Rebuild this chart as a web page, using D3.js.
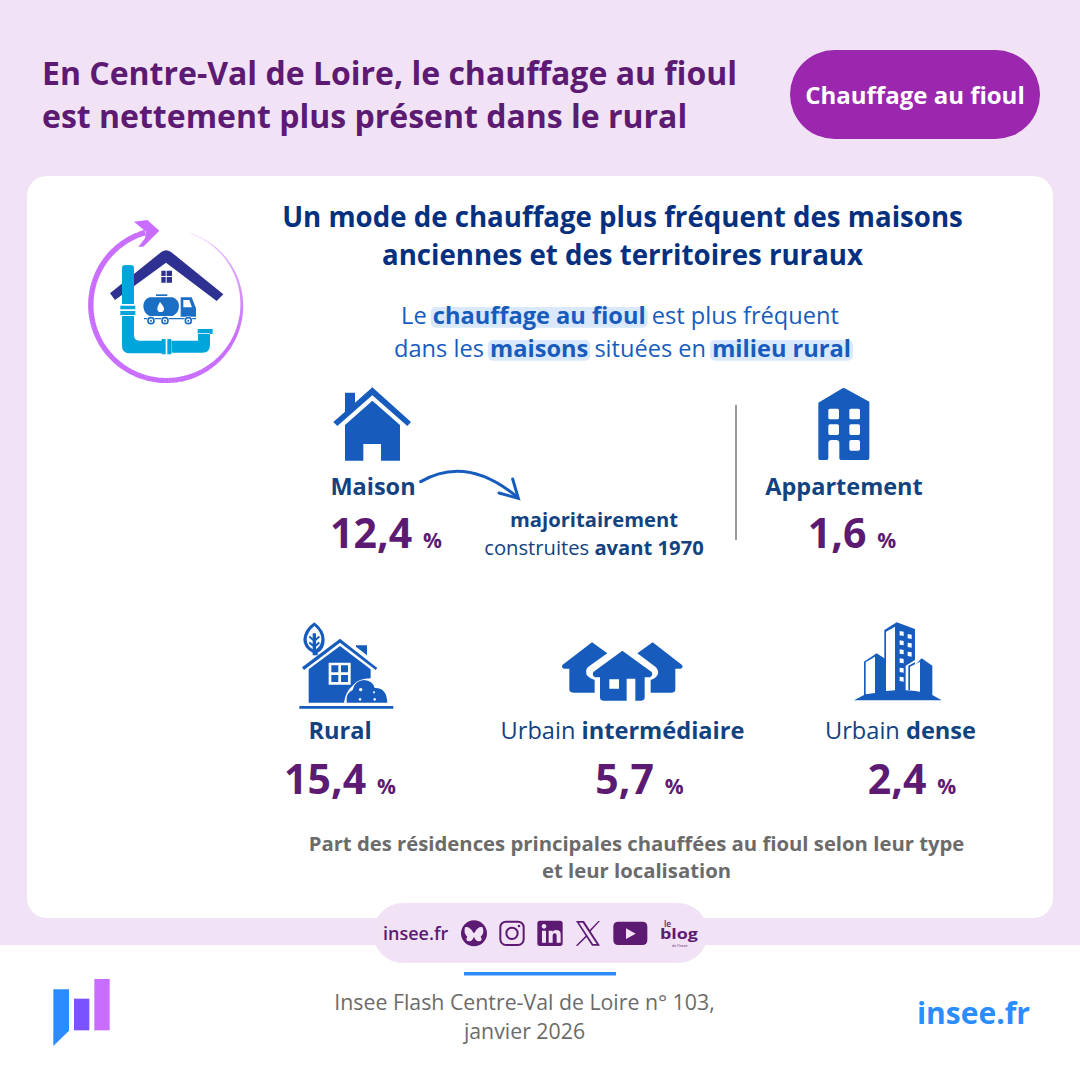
<!DOCTYPE html>
<html lang="fr"><head><meta charset="utf-8">
<script src="https://cdnjs.cloudflare.com/ajax/libs/d3/7.9.0/d3.min.js"></script>
<style>html,body{margin:0;padding:0;background:#fff}svg{display:block}text{font-family:"Open Sans","Noto Sans",sans-serif}</style>
</head><body><svg id="c" width="1080" height="1080" viewBox="0 0 1080 1080"></svg>
<script>
// ---- data ----
const housingTypes = ["Maison", "Appartement"];
const housingValues = [12.4, 1.6];
const territoryLabels = [[["Rural",700]], [["Urbain ",400],["intermédiaire",700]], [["Urbain ",400],["dense",700]]];
const territoryValues = [15.4, 5.7, 2.4];
const titleLines = ["En Centre-Val de Loire, le chauffage au fioul", "est nettement plus présent dans le rural"];
const headLines = ["Un mode de chauffage plus fréquent des maisons", "anciennes et des territoires ruraux"];
const captionLines = ["Part des résidences principales chauffées au fioul selon leur type", "et leur localisation"];
const sourceLines = ["Insee Flash Centre-Val de Loire n° 103,", "janvier 2026"];

// ---- styles ----
const BG="#f1e3f5", PURPLE="#5c1a73", PILL="#9b27af", NAVY="#05307f", BLUE="#175cbd", LABEL="#12427f", GREY="#6b6b6b", SKY="#2b8cff", PINK="#c86dff", HL="#d9e8fb";
const svg=d3.select("#c");
const fr=d3.formatLocale({decimal:",",thousands:" ",grouping:[3],currency:["","€"]}).format(".1f");

function rect(x,y,w,h,r,fill,p){return (p||svg).append("rect").attr("x",x).attr("y",y).attr("width",w).attr("height",h).attr("rx",r||0).attr("fill",fill);}
function path(g,d,fill,extra){const e=g.append("path").attr("d",d).attr("fill",fill).attr("fill-rule","evenodd");if(extra)Object.entries(extra).forEach(([k,v])=>e.attr(k,v));return e;}
function zoomGroup(ox,oy){return svg.append("g").attr("transform",`translate(${ox},${oy}) scale(${1/3})`);}
// rich text: segments [text, weight, fill, highlight?, size?]
function rich(x,y,size,segs,fill,anchor,p){
  const parent=p||svg;
  const hlG=parent.append("g");
  const t=parent.append("text").attr("x",x).attr("y",y).attr("font-size",size).attr("text-anchor",anchor||"middle").attr("fill",fill).style("white-space","pre");
  segs.forEach(s=>{const sp=t.append("tspan").text(s[0]).attr("font-weight",s[1]||400);if(s[2])sp.attr("fill",s[2]);if(s[4])sp.attr("font-size",s[4]);});
  let pos=0;
  segs.forEach(s=>{
    const len=s[0].length;
    if(s[3]){
      const a=t.node().getStartPositionOfChar(pos).x, b=t.node().getEndPositionOfChar(pos+len-1).x;
      rect(a-2,y-size*0.72,b-a+4,size*0.88,5,HL,hlG);
    }
    pos+=len;
  });
  return t;
}

// ---- background ----
rect(0,0,1080,1080,0,BG);
rect(0,945,1080,135,0,"#fff");
rect(27,176,1026,742,20,"#fff");

// ---- header ----
titleLines.forEach((l,i)=>rich(42,[85,128][i],32,[[l,700]],PURPLE,"start"));
rect(790,50,250,89,44.5,PILL);
rich(915,104,24,[["Chauffage au fioul",700]],"#fff");
headLines.forEach((l,i)=>rich(622.5,[227,265][i],27.65,[[l,700]],NAVY));
rich(620,324,23.6,[["Le ",400],["chauffage au fioul",700,null,true],[" est plus fréquent",400]],BLUE);
rich(622.5,357,23.6,[["dans les ",400],["maisons",700,null,true],[" situées en ",400],["milieu rural",700,null,true]],BLUE);

// ---- illustration ----
{
  const cx=166.3,cy=305,R=75.5,g=svg.append("g");
  const w=d3.scaleLinear().domain([0,.55,.8,1]).range([5.5,5,2.5,.4]);
  const col=d3.scaleLinear().domain([0,.7,1]).range([PINK,PINK,"#ecd0ff"]);
  const a0=-Math.PI*0.59, span=-Math.PI*1.81; // counter-clockwise around the ring
  const N=140, ang=t=>a0+span*t;
  d3.range(N).map(i=>i/N).forEach(f=>{
    const f2=f+1.1/N;
    g.append("path").attr("d",`M${cx+R*Math.cos(ang(f))},${cy+R*Math.sin(ang(f))}A${R},${R} 0 0 0 ${cx+R*Math.cos(ang(f2))},${cy+R*Math.sin(ang(f2))}`)
     .attr("fill","none").attr("stroke",col(f)).attr("stroke-width",w(f));
  });
  const z=zoomGroup(60,200);
  path(z,"M222,65L262,60L298,92L250,140L235,140L255,115L258,95Z",PINK);
  path(z,"M150,280L305,155Q318,146 332,155L490,283L470,303L318,188L165,300Z","#2e3192");
  path(z,"M304,212H317V228H304ZM320,212H336V228H320ZM304,231H317V248H304ZM320,231H336V248H320Z","#2e3192");
  // pipes
  path(z,"M186,205Q186,195 196,195H212Q222,195 222,205V312H186ZM181,317H226V328H181ZM181,333H226V345H181ZM186,348H222V405Q222,422 238,422H305V460H208Q186,460 186,438ZM305,417H317V463H305ZM322,417H334V463H322ZM333,422H414V400H450V435Q450,458 428,458H333ZM413,387H458V402H413Z","#00a5db");
  // truck
  path(z,"M268,292H338Q357,300 357,318Q357,338 338,348H268Q250,338 250,318Q250,300 268,292ZM300,306Q292,320 292,326A10,10 0 0 0 312,326Q312,320 300,306Z","#1a6fc4");
  path(z,"M288,283H322V288H288Z","#1a6fc4");
  path(z,"M362,292H395L408,325V350H362ZM370,300V322H396L388,300Z","#1a6fc4");
  path(z,"M252,354H408V358H252Z","#1a6fc4");
  [273,315,385].forEach(x=>{z.append("circle").attr("cx",x).attr("cy",362).attr("r",13).attr("fill","#fff");z.append("circle").attr("cx",x).attr("cy",362).attr("r",9).attr("fill","none").attr("stroke","#1a6fc4").attr("stroke-width",5);z.append("circle").attr("cx",x).attr("cy",362).attr("r",3).attr("fill","#1a6fc4");});
}

// ---- Maison ----
{
  const z=zoomGroup(320,380);
  path(z,"M157,22L273,126L262,138L157,46L52,138L40,126L75,95V38H105V68Z",BLUE);
  path(z,"M157,62L240,135V242H183V192H130V242H75V135Z",BLUE);
  path(z,"M302,305Q440,225 590,350",'none',{stroke:BLUE,"stroke-width":9,"stroke-linecap":"round"});
  path(z,"M578,297L595,355L537,339",'none',{stroke:BLUE,"stroke-width":9,"stroke-linecap":"round"});
}
// ---- Appartement ----
{
  const z=zoomGroup(780,380);
  const win=(x,y)=>`M${x+5},${y}H${x+27}Q${x+32},${y} ${x+32},${y+5}V${y+27}Q${x+32},${y+32} ${x+27},${y+32}H${x+5}Q${x},${y+32} ${x},${y+27}V${y+5}Q${x},${y} ${x+5},${y}Z`;
  path(z,"M115,68L185,26Q191,22 197,26L268,65V235Q268,240 263,240H183Q178,240 178,235V190Q178,180 168,180H155Q145,180 145,190V235Q145,240 140,240H120Q115,240 115,235Z"
    +win(145,86)+win(208,86)+win(145,133)+win(208,133)+win(208,180),BLUE);
}
// stats, row 1
const valueSize=41, pctSize=21;
const stat=(x,y,v)=>rich(x,y,valueSize,[[fr(v),700],["  ",700,null,false,pctSize],["%",700,null,false,pctSize]],PURPLE);
const xHousing=d3.scaleOrdinal().domain(housingTypes).range([373,844]);
const xHousingVal=d3.scaleOrdinal().domain(housingTypes).range([386,852]);
housingTypes.forEach((t,i)=>{
  rich(xHousing(t),495,23.5,[[t,700]],LABEL);
  stat(xHousingVal(t),548,housingValues[i]);
});
rich(594,527,20.2,[["majoritairement",700]],LABEL);
rich(594,555,20.2,[["construites ",400],["avant 1970",700]],LABEL);
svg.append("line").attr("x1",736).attr("x2",736).attr("y1",405).attr("y2",540).attr("stroke","#555").attr("stroke-width",1.2);

// ---- territory icons ----
{
  const z=zoomGroup(280,610);
  // rural
  path(z,"M58,288H340V296H58Z",BLUE);
  path(z,"M180,86L292,174L287,180L180,98L72,180L66,172Z",BLUE);
  path(z,"M228,106H261V136L228,110Z",BLUE);
  path(z,"M180,108L272,178V205Q235,205 220,225Q196,245 192,278H86V178ZM146,158V224H212V158ZM154,166H175V187H154ZM183,166H204V187H183ZM154,195H175V216H154ZM183,195H204V216H183Z",BLUE);
  path(z,"M200,278Q196,250 218,240Q226,210 252,210Q278,212 284,234Q320,232 322,278ZM242,234a5,5 0 1 0 .1,0ZM240,264a4,4 0 1 0 .1,0ZM284,264a4,4 0 1 0 .1,0ZM282,244a3,3 0 1 0 .1,0Z",BLUE);
  path(z,"M103,37Q134,60 134,90Q134,118 113,128L113,136H98V128Q70,115 70,88Q72,58 103,37ZM103,48Q82,65 80,88Q80,108 98,118V110L86,100L90,95L98,102V92L86,82L90,77L98,85V70H108V85L116,77L120,82L108,92V102L116,95L120,100L108,110V118Q124,108 124,88Q124,65 103,48Z",BLUE);
  // urbain intermédiaire
  path(z,"M936,97L982,130L925,170Q915,178 920,195Q928,205 944,210V248H880Q868,248 868,238V176H852Q842,172 848,164Z",BLUE);
  path(z,"M1118,97L1205,164Q1212,172 1202,176H1186V238Q1186,248 1176,248H1112V210Q1128,205 1134,192Q1136,178 1126,170L1072,130Z",BLUE);
  path(z,"M1027,122L1115,186Q1120,196 1110,202H1094V262Q1094,272 1084,272H1066V206H1040V272H970Q960,272 960,262V202H945Q935,196 940,186ZM988,208V236H1017V208Z",BLUE);
}
{
  const z=zoomGroup(840,615);
  // silhouette
  path(z,"M133,45L170,22L225,42V150L245,130L277,152V240L305,256H42L72,240V140L110,115L133,130Z",BLUE);
  // white faces
  path(z,"M138,50L165,35V226L138,228Z","#fff");
  path(z,"M77,142L105,125V234L77,238Z","#fff");
  path(z,"M197,152L225,135V228L197,226Z","#fff");
  path(z,"M205,152L225,142V228L205,226Z",BLUE);
  path(z,"M210,155L240,140V230L210,226Z","#fff");
  [55,83,110,137,165,192].forEach(y=>path(z,`M179,${y-7}L191,${y-5}V${y+8}L179,${y+6}Z`,"#fff"));
  [65,91,118].forEach(y=>path(z,`M203,${y-8}L215,${y-6}V${y+7}L203,${y+5}Z`,"#fff"));
}
const terrCx=[340,622.5,900.5], terrValCx=[340,639.5,912];
territoryLabels.forEach((l,i)=>{
  rich(terrCx[i],739,23.6,l.map(s=>[s[0],s[1]]),LABEL);
  stat(terrValCx[i],794,territoryValues[i]);
});
captionLines.forEach((l,i)=>rich(636.5,[851,878][i],20.3,[[l,700]],GREY));

// ---- footer ----
rect(373,903,335,60,30,BG);
rich(383,940,18,[["insee.fr",600]],PURPLE,"start");
{
  const z=zoomGroup(370,900);
  z.append("circle").attr("cx",312).attr("cy",100).attr("r",39).attr("fill",PURPLE);
  path(z,"M310,98Q298,78 285,82Q280,100 292,110Q284,122 298,124Q308,122 312,110Q316,122 326,124Q340,122 332,110Q344,100 338,82Q324,78 314,98Z",BG);
  z.append("rect").attr("x",391).attr("y",65).attr("width",70).attr("height",70).attr("rx",17).attr("fill","none").attr("stroke",PURPLE).attr("stroke-width",6);
  z.append("circle").attr("cx",426).attr("cy",100).attr("r",17).attr("fill","none").attr("stroke",PURPLE).attr("stroke-width",6);
  z.append("circle").attr("cx",447).attr("cy",78).attr("r",4).attr("fill",PURPLE);
  path(z,"M510,62H570Q578,62 578,70V130Q578,138 570,138H510Q502,138 502,130V70Q502,62 510,62ZM516,92V128H528V92ZM522,72a7,7 0 1 0 .1,0ZM536,92V128H548V106Q548,100 554,100Q560,100 560,106V128H572V102Q572,90 558,90Q550,90 548,96V92Z",PURPLE);
  path(z,"M618,63H642L690,137H666ZM627,68L669,132H680L638,68Z",PURPLE);
  path(z,"M685,63H690L660,96L657,92ZM650,104L653,108L623,137H617Z",PURPLE);
  path(z,"M745,65H817Q832,65 832,80V120Q832,135 817,135H745Q730,135 730,120V80Q730,65 745,65ZM768,85V117L797,101Z",PURPLE);
}
rich(660,939,14.5,[["blog",700]],PURPLE,"start").attr("textLength",38).attr("lengthAdjust","spacingAndGlyphs");
rich(664,926.5,8.5,[["le",600]],PURPLE,"start");
rich(672,947,3.5,[["de l'Insee",400]],PURPLE,"start");
rect(464,972,152,3.5,0,SKY);
{
  const z=zoomGroup(30,960);
  path(z,"M70,88H117V212L70,258Z",SKY);
  path(z,"M132,116H178V211H132Z","#7a52ff");
  path(z,"M193,57H239V211H193Z",PINK);
}
sourceLines.forEach((l,i)=>rich(524.5,[1010,1039][i],21.3,[[l,400]],GREY));
rich(1030,1024,30,[["insee.fr",700]],SKY,"end");
</script></body></html>
